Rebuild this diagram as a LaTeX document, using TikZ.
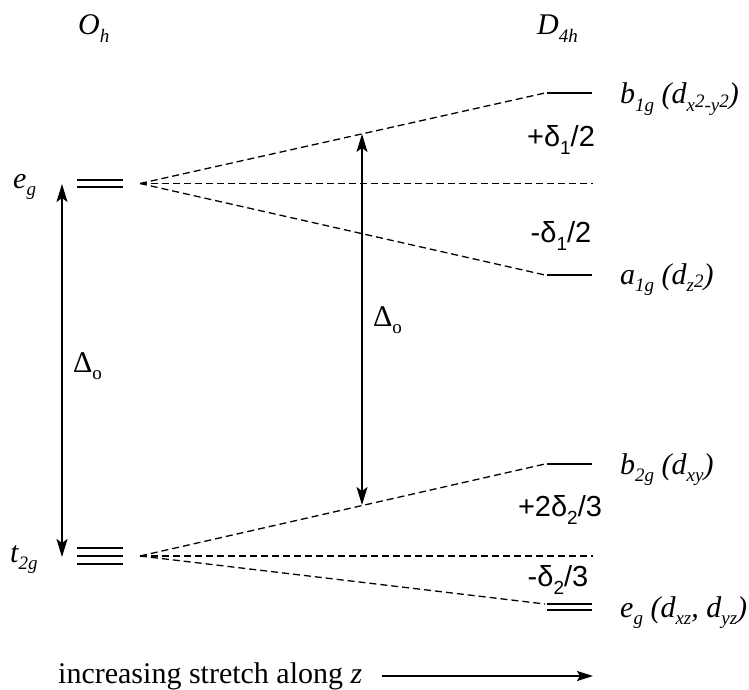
\documentclass[tikz,border=0pt]{standalone}
\usepackage{fontspec}
\setmainfont{Liberation Serif}
\newfontfamily\lsans{Liberation Sans}
\usetikzlibrary{arrows.meta}
\newcommand\sbs[1]{\raisebox{-0.25em}{\fontsize{19}{20}\selectfont #1}}
\newcommand\rs[1]{\raisebox{0.2em}{#1}}
\begin{document}
\begin{tikzpicture}[x=1pt,y=-1pt,
  font=\fontsize{30}{34}\selectfont,
  level/.style={line width=2pt},
  corr/.style={dash pattern=on 7pt off 4pt, line width=1.3pt},
  gaparrow/.style={line width=1.8pt, {Stealth[length=18pt,width=11pt,inset=4pt]}-{Stealth[length=18pt,width=11pt,inset=4pt]}},
  lbl/.style={inner sep=0pt},
  split/.style={inner sep=0pt, font=\fontsize{29}{34}\selectfont\lsans}]
\fill[white] (0,0) rectangle (749,690);
\useasboundingbox (0,0) rectangle (749,690);

% headings
\node[lbl, anchor=base west] (Oh) at (78,35) {\textit{O\sbs{h}}};
\node[lbl, anchor=base west] (D4h) at (537,35) {\textit{D\sbs{4h}}};

% left levels
\coordinate (e1a) at (77,180); \coordinate (e1b) at (123,180);
\coordinate (e2a) at (77,187); \coordinate (e2b) at (123,187);
\draw[level] (e1a) -- (e1b);
\draw[level] (e2a) -- (e2b);
\coordinate (t1a) at (77,548); \coordinate (t1b) at (123,548);
\coordinate (t2a) at (77,556); \coordinate (t2b) at (123,556);
\coordinate (t3a) at (77,564); \coordinate (t3b) at (123,564);
\draw[level] (t1a) -- (t1b);
\draw[level] (t2a) -- (t2b);
\draw[level] (t3a) -- (t3b);
\node[lbl, anchor=base west] (egL) at (13,188) {\textit{e\sbs{g}}};
\node[lbl, anchor=base west] (t2gL) at (10,562) {\textit{t\sbs{2g}}};

% right levels
\coordinate (b1a) at (547,93);  \coordinate (b1b) at (592,93);
\coordinate (a1a) at (547,275); \coordinate (a1b) at (592,275);
\coordinate (b2a) at (547,464); \coordinate (b2b) at (592,464);
\coordinate (r1a) at (547,604); \coordinate (r1b) at (592,604);
\coordinate (r2a) at (547,610); \coordinate (r2b) at (592,610);
\draw[level] (b1a) -- (b1b);
\draw[level] (a1a) -- (a1b);
\draw[level] (b2a) -- (b2b);
\draw[level] (r1a) -- (r1b);
\draw[level] (r2a) -- (r2b);
\node[lbl, anchor=base west] (b1gL) at (620,104) {\textit{b\sbs{1g} (d\sbs{x\rs{2}-y\rs{2}})}};
\node[lbl, anchor=base west] (a1gL) at (620,284) {\textit{a\sbs{1g} (d\sbs{z\rs{2}})}};
\node[lbl, anchor=base west] (b2gL) at (620,474) {\textit{b\sbs{2g} (d\sbs{xy})}};
\node[lbl, anchor=base west] (egR) at (620,617) {\textit{e\sbs{g} (d\sbs{xz}, d\sbs{yz})}};

% correlation lines
\coordinate (oE) at (140,183.5);
\coordinate (oT) at (140,556);
\coordinate (hE) at (593,183.5);
\coordinate (hT) at (593,556);
\coordinate (b1d) at (545,93);
\coordinate (a1d) at (545,275);
\coordinate (b2d) at (545,464);
\coordinate (r1d) at (545,604);
\draw[corr] (oE) -- (b1d);
\draw[corr] (oE) -- (hE);
\draw[corr] (oE) -- (a1d);
\draw[corr] (oT) -- (b2d);
\draw[corr] (oT) -- (hT);
\draw[corr] (oT) -- (r1d);

% splitting labels
\node[split] (d1p) at (561,140) {+δ\sbs{1}/2};
\node[split] (d1m) at (561,236) {-δ\sbs{1}/2};
\node[split] (d2p) at (560,510) {+2δ\sbs{2}/3};
\node[split] (d2m) at (558,580) {-δ\sbs{2}/3};

% Delta_o arrows
\coordinate (lTop) at (62,184);
\coordinate (lBot) at (62,557);
\draw[gaparrow] (lTop) -- (lBot);
\node[lbl, anchor=west] (DoL) at (73,366) {Δ\sbs{o}};
\coordinate (mTop) at (362,134);
\coordinate (mBot) at (362,505);
\draw[gaparrow] (mTop) -- (mBot);
\node[lbl, anchor=west] (DoM) at (373,320) {Δ\sbs{o}};

% bottom
\node[lbl, anchor=base west] (stretch) at (58,683) {increasing stretch along \textit{z}};
\coordinate (sA) at (382,676);
\coordinate (sB) at (593,676);
\draw[line width=1.8pt, -{Stealth[length=16pt,width=10pt,inset=3pt]}] (sA) -- (sB);
\end{tikzpicture}
\end{document}
